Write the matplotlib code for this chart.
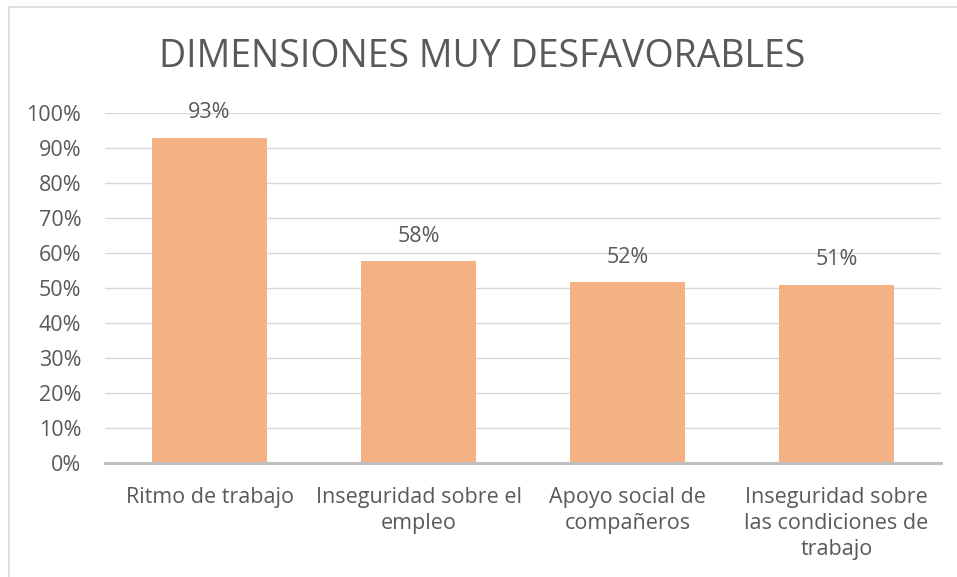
import matplotlib
matplotlib.use('Agg')
import matplotlib.pyplot as plt
from matplotlib.patches import Rectangle

# data
categories = ['Ritmo de trabajo',
              'Inseguridad sobre el\nempleo',
              'Apoyo social de\ncompañeros',
              'Inseguridad sobre\nlas condiciones de\ntrabajo']
values = [0.93, 0.577, 0.516, 0.509]
yticks = [0, 0.1, 0.2, 0.3, 0.4, 0.5, 0.6, 0.7, 0.8, 0.9, 1.0]

plt.rcParams['font.family'] = ['Open Sans', 'DejaVu Sans']
txt = '#595959'
fs = 15.5

fig = plt.figure(figsize=(9.57, 5.77), dpi=100)
ax = fig.add_axes([105/957, 114/577, 836/957, 350/577])

x = range(len(categories))
ax.bar(x, values, width=0.555, color='#F4B183', zorder=2)

for i, v in zip(x, values):
    ax.annotate(f'{round(v*100)}%', (i, v), xytext=(0, 18), textcoords='offset points',
                ha='center', va='center', fontsize=fs, color=txt)

ax.set_xlim(-0.5, len(categories) - 0.5)
ax.set_ylim(0, 1)
ax.set_yticks(yticks)
ax.set_yticklabels([f'{int(round(t*100))}%' for t in yticks])
ax.set_xticks(list(x))
ax.set_xticklabels(categories, linespacing=1.3)

ax.tick_params(axis='y', length=0, pad=17, labelsize=fs, labelcolor=txt)
ax.tick_params(axis='x', length=0, pad=17.5, labelsize=fs, labelcolor=txt)

ax.grid(axis='y', color='#D9D9D9', linewidth=1, zorder=0)
for s in ['left', 'right', 'top']:
    ax.spines[s].set_visible(False)
ax.spines['bottom'].set_color('#BFBFBF')
ax.spines['bottom'].set_linewidth(2.2)
ax.spines['bottom'].set_zorder(3)

fig.text(482/957, 1 - 57/577, 'DIMENSIONES MUY DESFAVORABLES', ha='center', va='center',
         fontsize=27, color=txt)

# chart frame (right/bottom edges fall outside the picture)
fig.patches.append(Rectangle((9/957, -0.05), 1.0, 1 - 7/577 + 0.05, transform=fig.transFigure,
                             fill=False, edgecolor='#D9D9D9', linewidth=1.2))

fig.savefig('out.png', dpi=100)
